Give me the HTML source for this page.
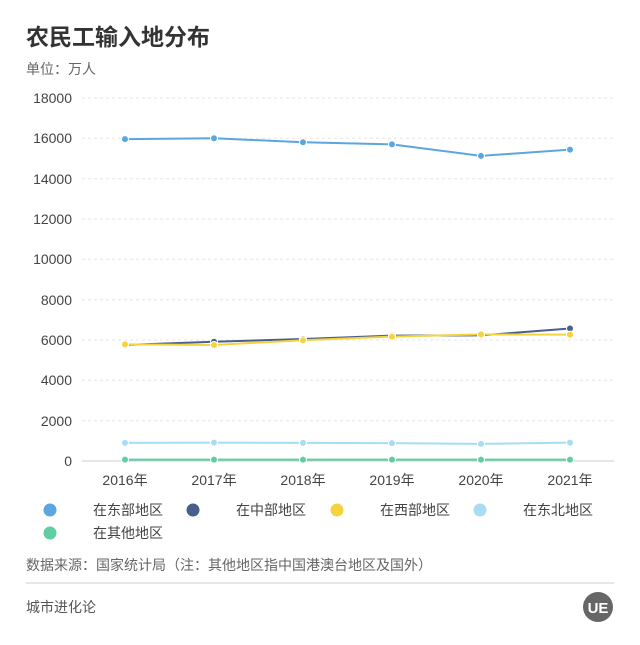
<!DOCTYPE html>
<html><head><meta charset="utf-8"><style>
body{margin:0;width:640px;height:640px;background:#fff;overflow:hidden;font-family:"Liberation Sans","Noto Sans CJK SC",sans-serif}
</style></head><body>
<svg width="640" height="640" xmlns="http://www.w3.org/2000/svg" font-family="Liberation Sans, Noto Sans CJK SC, sans-serif">
<text x="26" y="45" font-size="23" font-weight="bold" fill="#333">农民工输入地分布</text>
<text x="26" y="74" font-size="14" fill="#666">单位：万人</text>
<g stroke="#e6e6e6" stroke-dasharray="3,3" stroke-width="1">
<line x1="82" x2="614" y1="98" y2="98"/><line x1="82" x2="614" y1="138.3" y2="138.3"/><line x1="82" x2="614" y1="178.7" y2="178.7"/><line x1="82" x2="614" y1="219" y2="219"/><line x1="82" x2="614" y1="259.3" y2="259.3"/><line x1="82" x2="614" y1="299.7" y2="299.7"/><line x1="82" x2="614" y1="340" y2="340"/><line x1="82" x2="614" y1="380.3" y2="380.3"/><line x1="82" x2="614" y1="420.7" y2="420.7"/>
</g>
<line x1="82" x2="614" y1="461" y2="461" stroke="#ccc"/>
<g font-size="14" fill="#444" text-anchor="end">
<text x="72" y="103">18000</text><text x="72" y="143">16000</text><text x="72" y="184">14000</text><text x="72" y="224">12000</text><text x="72" y="264">10000</text><text x="72" y="305">8000</text><text x="72" y="345">6000</text><text x="72" y="385">4000</text><text x="72" y="426">2000</text><text x="72" y="466">0</text>
</g>
<g font-size="14" fill="#444" text-anchor="middle">
<text x="125" y="485">2016年</text><text x="214" y="485">2017年</text><text x="303" y="485">2018年</text><text x="392" y="485">2019年</text><text x="481" y="485">2020年</text><text x="570" y="485">2021年</text>
</g>
<g fill="none" stroke-width="2">
<polyline stroke="#5aa7e0" points="125,139.1 214,138.3 303,142.2 392,144.4 481,155.9 570,149.6"/>
<polyline stroke="#4a5e8c" points="125,345 214,341.8 303,339 392,335.6 481,335.4 570,328.5"/>
<polyline stroke="#f5d33f" points="125,344.4 214,345 303,340.2 392,336.6 481,334.4 570,334.6"/>
<polyline stroke="#a8dcf5" points="125,442.9 214,442.6 303,442.9 392,443.1 481,443.9 570,442.6"/>
<polyline stroke="#5dcfa0" points="125,459.6 214,459.6 303,459.6 392,459.6 481,459.6 570,459.6"/>
</g>
<g stroke="#fff" stroke-width="1">
<g fill="#5aa7e0"><circle cx="125" cy="139.1" r="3.5"/><circle cx="214" cy="138.3" r="3.5"/><circle cx="303" cy="142.2" r="3.5"/><circle cx="392" cy="144.4" r="3.5"/><circle cx="481" cy="155.9" r="3.5"/><circle cx="570" cy="149.6" r="3.5"/></g>
<g fill="#4a5e8c"><circle cx="125" cy="345" r="3.5"/><circle cx="214" cy="341.8" r="3.5"/><circle cx="303" cy="339" r="3.5"/><circle cx="392" cy="335.6" r="3.5"/><circle cx="481" cy="335.4" r="3.5"/><circle cx="570" cy="328.5" r="3.5"/></g>
<g fill="#f5d33f"><circle cx="125" cy="344.4" r="3.5"/><circle cx="214" cy="345" r="3.5"/><circle cx="303" cy="340.2" r="3.5"/><circle cx="392" cy="336.6" r="3.5"/><circle cx="481" cy="334.4" r="3.5"/><circle cx="570" cy="334.6" r="3.5"/></g>
<g fill="#a8dcf5"><circle cx="125" cy="442.9" r="3.5"/><circle cx="214" cy="442.6" r="3.5"/><circle cx="303" cy="442.9" r="3.5"/><circle cx="392" cy="443.1" r="3.5"/><circle cx="481" cy="443.9" r="3.5"/><circle cx="570" cy="442.6" r="3.5"/></g>
<g fill="#5dcfa0"><circle cx="125" cy="459.6" r="3.5"/><circle cx="214" cy="459.6" r="3.5"/><circle cx="303" cy="459.6" r="3.5"/><circle cx="392" cy="459.6" r="3.5"/><circle cx="481" cy="459.6" r="3.5"/><circle cx="570" cy="459.6" r="3.5"/></g>
</g>
<g font-size="14" fill="#444">
<circle cx="50" cy="510" r="6.5" fill="#5aa7e0"/><text x="93" y="515">在东部地区</text>
<circle cx="193" cy="510" r="6.5" fill="#4a5e8c"/><text x="236" y="515">在中部地区</text>
<circle cx="337" cy="510" r="6.5" fill="#f5d33f"/><text x="380" y="515">在西部地区</text>
<circle cx="480" cy="510" r="6.5" fill="#a8dcf5"/><text x="523" y="515">在东北地区</text>
<circle cx="50" cy="533" r="6.5" fill="#5dcfa0"/><text x="93" y="538">在其他地区</text>
</g>
<text x="26" y="570" font-size="14" fill="#666">数据来源：国家统计局（注：其他地区指中国港澳台地区及国外）</text>
<line x1="26" x2="614" y1="583" y2="583" stroke="#ccc"/>
<text x="26" y="612" font-size="14" fill="#555">城市进化论</text>
<circle cx="598" cy="607" r="15" fill="#666"/>
<text x="598" y="613" font-size="15" font-weight="bold" fill="#fff" text-anchor="middle">UE</text>
</svg>
</body></html>
